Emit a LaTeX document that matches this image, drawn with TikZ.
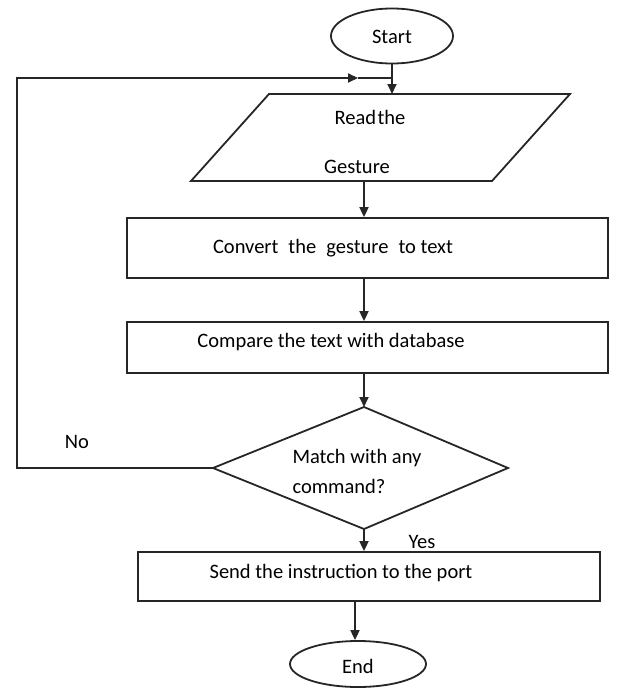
\documentclass[tikz,border=0pt]{standalone}
\usepackage{fontspec}
\setmainfont{Carlito}
\usetikzlibrary{arrows.meta,shapes.geometric,calc}
\begin{document}
\begin{tikzpicture}[x=1pt,y=-1pt,
  line width=1.8pt,
  every node/.style={font=\fontsize{20.5}{30}\selectfont, inner sep=0pt, text=black},
  arr/.style={draw=black!85, -{Triangle[length=10pt,width=9pt]}},
  ln/.style={draw=black!85},
  boxshape/.style={draw=black!85, rectangle},
  termshape/.style={draw=black!85, ellipse}]
\useasboundingbox (0,0) rectangle (620,688);

% Start
\node[termshape, minimum width=122pt, minimum height=55pt] (start) at (392,36) {};
\node (starttxt) at (392,37) {Start};

% parallelogram (input)
\coordinate (ptl) at (269,94);
\coordinate (ptr) at (570,94);
\coordinate (pbr) at (492,181);
\coordinate (pbl) at (191,181);
\draw[ln] (ptl) -- (ptr) -- (pbr) -- (pbl) -- cycle;
\coordinate (pin) at (392,94);
\coordinate (pout) at (364,181);
\node (read1) at (370,117) {Read\hspace{1.5pt}the};
\node (read2) at (357,167) {Gesture};

% Convert box
\node[boxshape, minimum width=481pt, minimum height=60pt] (convert) at (367.5,248) {};
\node (converttxt) at (333,248) {Convert\hspace{10pt}the\hspace{10pt}gesture\hspace{10pt}to text};

% Compare box
\node[boxshape, minimum width=481pt, minimum height=51pt] (compare) at (367.5,347.5) {};
\node (comparetxt) at (331,342) {Compare the text with database};

% Decision diamond
\coordinate (dtop) at (364,407);
\coordinate (dright) at (508,468);
\coordinate (dbot) at (364,529);
\coordinate (dleft) at (213,468);
\draw[ln] (dtop) -- (dright) -- (dbot) -- (dleft) -- cycle;
\node[align=left] (dectxt) at (357,471) {Match with any\\command?};

% Send box
\node[boxshape, minimum width=462pt, minimum height=49pt] (send) at (369,576.5) {};
\node (sendtxt) at (341,573) {Send the instruction to the port};

% End
\node[termshape, minimum width=136pt, minimum height=46pt] (stop) at (358,664) {};
\node (stoptxt) at (358,666) {End};

% labels
\node (no) at (77,442) {No};
\node (yes) at (422,542) {Yes};

% connectors
\coordinate (lc1) at (17,468);
\coordinate (lc2) at (17,78);
\coordinate (lmid) at (358,78);
\coordinate (join) at (392,78);
\draw[arr] (start.south) -- (pin);
\draw[arr] (dleft) -- (lc1) -- (lc2) -- (lmid);
\draw[ln] (lmid) -- (join);
\draw[arr] (pout) -- (pout |- convert.north);
\draw[arr] (pout |- convert.south) -- (pout |- compare.north);
\draw[arr] (pout |- compare.south) -- (dtop);
\draw[arr] (dbot) -- (dbot |- send.north);
\draw[arr] (send.south -| stop.north) ++(-3,0) coordinate (sb) -- (sb |- stop.north);
\end{tikzpicture}
\end{document}
